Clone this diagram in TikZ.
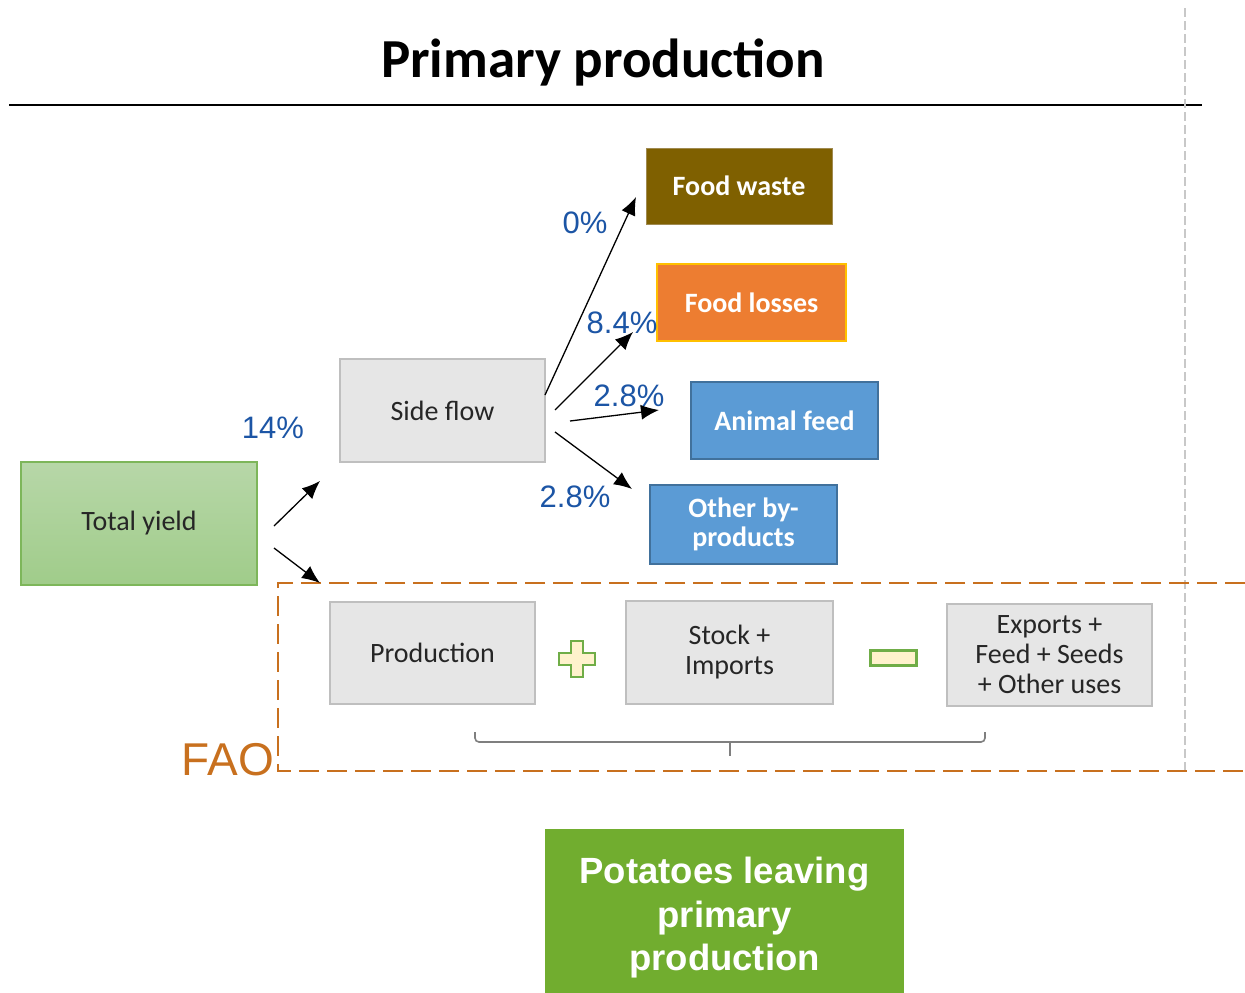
\documentclass[tikz,border=0pt]{standalone}
\usepackage{fontspec}
\setmainfont{Carlito}
\newfontfamily\arialfam{Liberation Sans}
\usetikzlibrary{arrows.meta}

\definecolor{pctblue}{HTML}{1C55A5}
\definecolor{faoorange}{HTML}{C8701E}
\definecolor{wastebrown}{HTML}{7F6000}
\definecolor{wasteedge}{HTML}{A08A50}
\definecolor{lossorange}{HTML}{ED7D31}
\definecolor{lossedge}{HTML}{FFC000}
\definecolor{feedblue}{HTML}{5B9BD5}
\definecolor{feededge}{HTML}{41719C}
\definecolor{boxgray}{HTML}{E6E6E6}
\definecolor{boxedge}{HTML}{BFBFBF}
\definecolor{boxtext}{HTML}{262626}
\definecolor{yieldtop}{HTML}{B7D7A8}
\definecolor{yieldbottom}{HTML}{A0CC8A}
\definecolor{yieldedge}{HTML}{7DB65A}
\definecolor{leavegreen}{HTML}{71AD2F}
\definecolor{signfill}{HTML}{FFF2CC}
\definecolor{signedge}{HTML}{70AD47}
\definecolor{bracegray}{HTML}{7F7F7F}
\definecolor{sepgray}{HTML}{C8C8C8}

\tikzset{
  graybox/.style={draw=boxedge, fill=boxgray, line width=1.5pt, inner sep=0pt,
    text=boxtext, align=center, font=\fontsize{28}{30}\selectfont},
  colorbox/.style={line width=2pt, inner sep=0pt, text=white, align=center,
    font=\bfseries\fontsize{28}{29}\selectfont},
  pct/.style={text=pctblue, font=\arialfam\fontsize{31}{36}\selectfont, inner sep=0pt},
  flowarrow/.style={-{Latex[length=18pt,width=15pt]}, line width=1.3pt, black},
}

\begin{document}
\begin{tikzpicture}[x=1pt,y=-1pt]
\useasboundingbox (0,0) rectangle (1245,993);

% heading and separators
\node[font=\bfseries\fontsize{55}{60}\selectfont, anchor=base] (title) at (603,77) {Primary production};
\draw[line width=1.8pt] (9,105) -- (1202,105);
\draw[sepgray, line width=1.5pt, dash pattern=on 9pt off 4pt] (1185,8) -- (1185,771);

% FAO balance frame
\draw[faoorange, line width=2.2pt, dash pattern=on 20pt off 8pt]
  (1245,583) -- (278,583) -- (278,771) -- (1245,771);
\node[text=faoorange, font=\arialfam\fontsize{46}{50}\selectfont, inner sep=0pt] (fao) at (228,760) {FAO};

% main boxes
\node[draw=yieldedge, top color=yieldtop, bottom color=yieldbottom, line width=1.5pt,
  minimum width=236pt, minimum height=123pt, inner sep=0pt, text=boxtext,
  font=\fontsize{28}{30}\selectfont] (yield) at (139,523.5) {Total yield};
\node[graybox, minimum width=205pt, minimum height=103pt] (side) at (442.5,410.5) {Side flow};

\node[colorbox, fill=wastebrown, draw=wasteedge, line width=1pt, minimum width=186pt, minimum height=76pt] (waste) at (739,186) {Food waste};
\node[colorbox, fill=lossorange, draw=lossedge, minimum width=189pt, minimum height=77pt] (loss) at (751.5,302.5) {Food losses};
\node[colorbox, fill=feedblue, draw=feededge, minimum width=187pt, minimum height=77pt] (feed) at (784.5,420.5) {Animal feed};
\node[colorbox, fill=feedblue, draw=feededge, minimum width=187pt, minimum height=79pt] (byprod) at (743.5,524) {Other by-\\products};

\node[graybox, minimum width=205pt, minimum height=102pt] (prod) at (432.5,653) {Production};
\node[graybox, minimum width=207pt, minimum height=103pt] (stock) at (729.5,652.5) {Stock +\\Imports};
\node[graybox, minimum width=205pt, minimum height=102pt] (exports) at (1049.5,655) {Exports +\\Feed + Seeds\\+ Other uses};

% plus and minus signs
\draw[draw=signedge, fill=signfill, line width=2.2pt]
  (571,641) -- (583,641) -- (583,653) -- (595,653) -- (595,665) -- (583,665)
  -- (583,677) -- (571,677) -- (571,665) -- (559,665) -- (559,653) -- (571,653) -- cycle;
\node[draw=signedge, fill=signfill, line width=2.5pt, minimum width=46pt, minimum height=15pt, inner sep=0pt] (minus) at (893.5,658) {};

% brace under the balance
\draw[bracegray, line width=1.6pt, rounded corners=4pt] (475,732) -- (475,742) -- (985,742) -- (985,732);
\draw[bracegray, line width=1.6pt] (730,742) -- (730,756);

% outcome box
\node[fill=leavegreen, minimum width=359pt, minimum height=170pt, inner sep=0pt] (leavebox) at (724.5,914) {};
\node[text=white, align=center, font=\arialfam\bfseries\fontsize{36.5}{43.5}\selectfont, inner sep=0pt] (leave) at (724.5,918) {Potatoes leaving\\primary\\production};

% arrow end points
\coordinate (y1s) at (274,526);  \coordinate (y1e) at (320,481);
\coordinate (y2s) at (274,548);  \coordinate (y2e) at (320,583);
\coordinate (w s) at (545,395);  \coordinate (w e) at (636,197);
\coordinate (l s) at (555,410);  \coordinate (l e) at (633,332);
\coordinate (f s) at (570,421);  \coordinate (f e) at (659,410);
\coordinate (b s) at (555,432);  \coordinate (b e) at (632,489);

\draw[flowarrow] (y1s) -- (y1e);
\draw[flowarrow] (y2s) -- (y2e);
\draw[flowarrow] (w s) -- (w e);
\draw[flowarrow] (l s) -- (l e);
\draw[flowarrow] (f s) -- (f e);
\draw[flowarrow] (b s) -- (b e);

% shares
\node[pct] (p14) at (273,428) {14\%};
\node[pct] (p0) at (585,223) {0\%};
\node[pct] (p84) at (622,323) {8.4\%};
\node[pct] (p28a) at (629,396) {2.8\%};
\node[pct] (p28b) at (575,497) {2.8\%};
\end{tikzpicture}
\end{document}
